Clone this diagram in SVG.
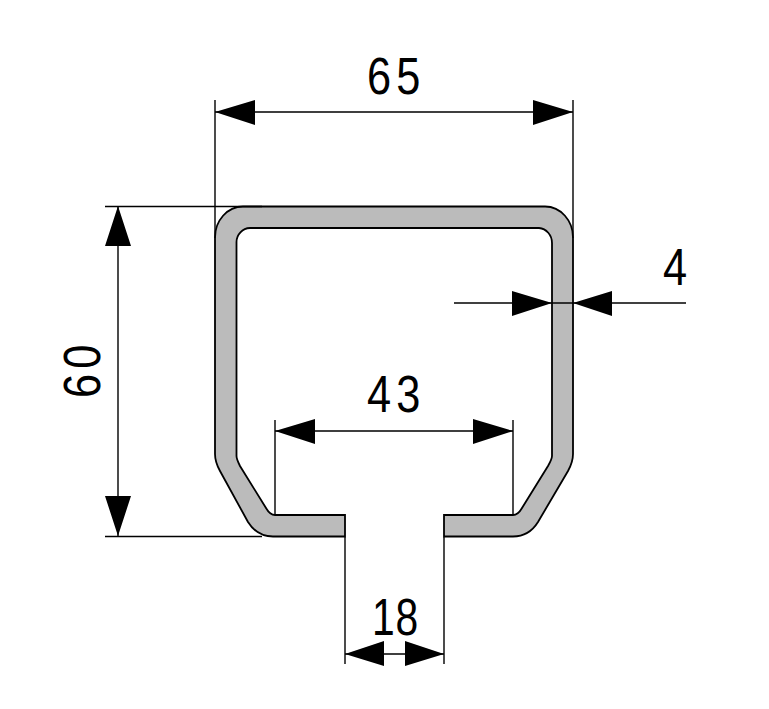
<svg xmlns="http://www.w3.org/2000/svg" width="769" height="709" viewBox="0 0 769 709">
<style>
.dim{fill:none;stroke:#000;stroke-width:1.4}
.ah{fill:#000;stroke:none}
.t{font-family:"Liberation Sans",Arial,sans-serif;font-size:51px;letter-spacing:6px;fill:#000}
</style>
<rect width="769" height="709" fill="#fff"/>
<g id="profile">
<path d="M243 206.500H545A28 31 0 0 1 573 238V454Q573 462 568 471L538 522Q529 536.500 513 536.500H444V515H513Q518 515 522 508L548 466Q552 459 552 456V243A14 15 0 0 0 539 228H250A14 14 0 0 0 236.500 242V456Q236.500 459 240 466L266 508Q270 515 275 515H345V536.500H273Q257 536.500 248 522L220 471Q215 462 215 454V238A28 31 0 0 1 243 206.500Z" fill="#bbb" stroke="#000" stroke-width="1.8"/>
</g>
<g id="connectors">
<path class="dim" d="M215 100V238M573 100V238M215 112H573"/>
<path class="ah" d="M215 112L255 100V125ZM573 112L533 100V125Z"/>
<path class="dim" d="M105 206.500H262M105 536.500H262M118 206V536"/>
<path class="ah" d="M118 206L105 246H131ZM118 536L105 496H131Z"/>
<path class="dim" d="M275 420V515M513 420V515M275 431H513"/>
<path class="ah" d="M275 431L315 419V444ZM513 431L473 419V444Z"/>
<path class="dim" d="M345 537V664M444 537V664M345 654H444"/>
<path class="ah" d="M345 654L384 641V666ZM444 654L405 641V666Z"/>
<path class="dim" d="M454 303H686"/>
<path class="ah" d="M552 303L512 291V316ZM573 303L612 291V316Z"/>
</g>
<g id="labels">
<text class="t" transform="translate(367 94) scale(.85 1)">65</text>
<text class="t" transform="translate(367 412) scale(.85 1)">43</text>
<text class="t" transform="translate(372 635) scale(.8 1)" style="letter-spacing:1px">18</text>
<text class="t" transform="translate(663 285) scale(.85 1)">4</text>
<text class="t" transform="translate(100 398) rotate(-90) scale(.85 1)">60</text>
</g>
</svg>
